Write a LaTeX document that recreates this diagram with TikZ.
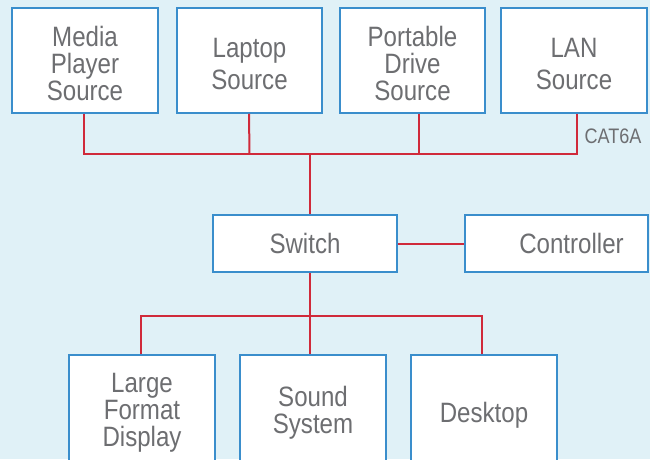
\documentclass[tikz,border=0pt]{standalone}
\usepackage{fontspec}
\newfontfamily\diagfont[FakeStretch=0.86]{Liberation Sans}
\definecolor{bgblue}{HTML}{E0F1F7}
\definecolor{boxblue}{HTML}{3A8ECC}
\definecolor{wirered}{HTML}{D02A3A}
\definecolor{txtgray}{HTML}{6D6E71}
\newcommand\dgpad{\rule{0pt}{25.5pt}}
\tikzset{
  devbox/.style={draw=boxblue, line width=1.5pt, fill=white, inner sep=0pt,
    align=center, text=txtgray, text depth=0pt, minimum width=146pt, minimum height=105pt,
    font=\diagfont\fontsize{28}{27}\selectfont},
  twoline/.style={font=\diagfont\fontsize{28}{32}\selectfont},
  wire/.style={draw=wirered, line width=2pt},
  small/.style={text=txtgray, inner sep=0pt, font=\diagfont\fontsize{21}{21}\selectfont}
}
\begin{document}
\begin{tikzpicture}[x=1pt,y=-1pt]
\useasboundingbox (0,0) rectangle (650,459);
\clip (0,0) rectangle (650,459);
\fill[bgblue] (0,0) rectangle (650,459);

% top row
\node[devbox] (mps) at (85,60.5) {\dgpad Media\\Player\\Source};
\node[devbox, twoline, minimum width=145pt] (lap) at (249.5,60.5) {\dgpad Laptop\\Source};
\node[devbox, minimum width=145pt] (pds) at (412.5,60.5) {\dgpad Portable\\Drive\\Source};
\node[devbox, twoline] (lan) at (574,60.5) {\dgpad LAN\\Source};
\node[small] (cat) at (613,136) {CAT6A};

% middle row
\node[devbox, minimum width=184pt, minimum height=57pt] (sw) at (305,243.5) {Switch};
\node[devbox, minimum width=183pt, minimum height=57pt] (ctl) at (556.5,243.5) {};
\node[text=txtgray, inner sep=0pt, text depth=0pt, font=\diagfont\fontsize{28}{27}\selectfont] (ctltxt) at (571.5,243.5) {Controller};

% bottom row
\node[devbox, minimum height=110pt] (lfd) at (142,410) {Large\\Format\\Display};
\node[devbox, minimum height=110pt, font=\diagfont\fontsize{28}{26.5}\selectfont] (ss) at (313,410) {Sound\\System};
\node[devbox, minimum height=110pt] (dt) at (484,410) {\dgpad Desktop};

% upper bus
\coordinate (bus1) at (84,154);
\coordinate (bus4) at (577,154);
\coordinate (busup) at (310,154);
\draw[wire] ([xshift=-1pt]mps.south) -- (bus1) -- (bus4) -- ([xshift=3pt]lan.south);
\draw[wire] ([xshift=-0.5pt]lap.south) -- (lap.south |- busup);
\draw[wire] ([xshift=6.5pt]pds.south) -- ([xshift=6.5pt]pds.south |- busup);
\draw[wire] (busup) -- ([xshift=5pt]sw.north);

% switch to controller
\draw[wire] (sw.east) -- (ctl.west);

% lower bus
\coordinate (busdn) at (310,316);
\coordinate (busl) at (141,316);
\coordinate (busr) at (482,316);
\draw[wire] ([xshift=5pt]sw.south) -- ([xshift=5pt]sw.south |- busdn);
\draw[wire] ([xshift=-1pt]lfd.north) -- (busl) -- (busr) -- ([xshift=-2pt]dt.north);
\draw[wire] (busdn) -- ([xshift=-3pt]ss.north);
\end{tikzpicture}
\end{document}
